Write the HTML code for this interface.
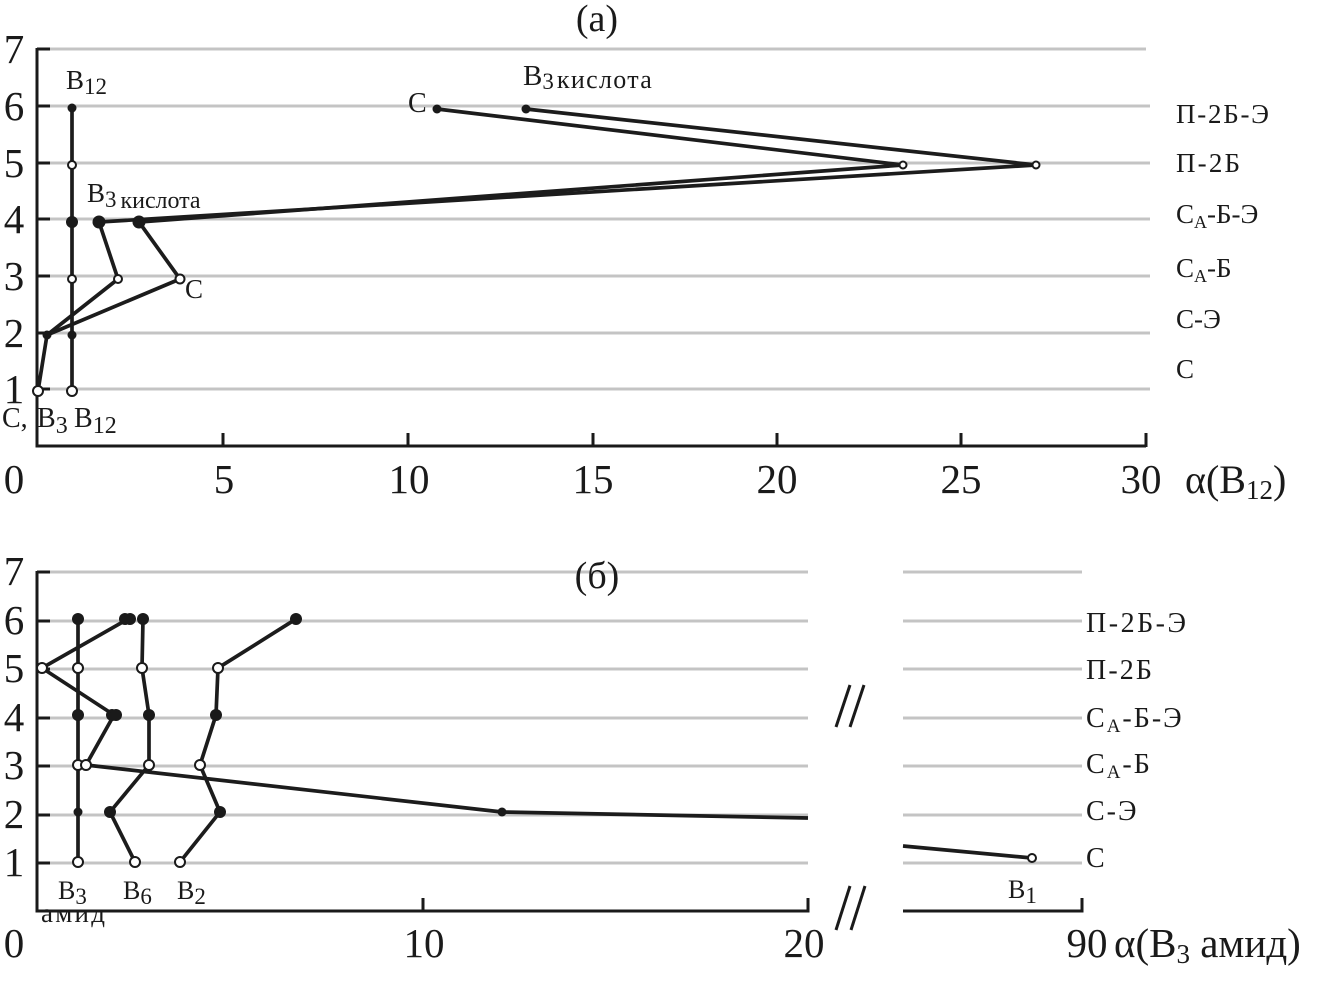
<!DOCTYPE html>
<html><head><meta charset="utf-8">
<style>
html,body{margin:0;padding:0;background:#fff;}
svg{display:block;}
text{font-family:"Liberation Serif","DejaVu Serif",serif;fill:#1a1a1a;}
</style></head>
<body>
<svg width="1323" height="983" viewBox="0 0 1323 983" xmlns="http://www.w3.org/2000/svg">
<!-- ============ TOP CHART (a) ============ -->
<g stroke="#c4c4c4" stroke-width="3">
<line x1="37" y1="49" x2="1146" y2="49"/>
<line x1="37" y1="106" x2="1150" y2="106"/>
<line x1="37" y1="163" x2="1150" y2="163"/>
<line x1="37" y1="219" x2="1150" y2="219"/>
<line x1="37" y1="276" x2="1150" y2="276"/>
<line x1="37" y1="333" x2="1150" y2="333"/>
<line x1="37" y1="389" x2="1150" y2="389"/>
</g>
<g stroke="#1a1a1a" stroke-width="3" fill="none">
<polyline points="37,48 37,446 1146,446"/>
<line x1="37" y1="49" x2="50" y2="49"/>
<line x1="37" y1="106" x2="50" y2="106"/>
<line x1="37" y1="163" x2="50" y2="163"/>
<line x1="37" y1="219" x2="50" y2="219"/>
<line x1="37" y1="276" x2="50" y2="276"/>
<line x1="37" y1="333" x2="50" y2="333"/>
<line x1="37" y1="389" x2="50" y2="389"/>
<line x1="223" y1="433" x2="223" y2="446"/>
<line x1="408" y1="433" x2="408" y2="446"/>
<line x1="593" y1="433" x2="593" y2="446"/>
<line x1="777" y1="433" x2="777" y2="446"/>
<line x1="961" y1="433" x2="961" y2="446"/>
<line x1="1146" y1="433" x2="1146" y2="447"/>
</g>
<!-- series lines -->
<g stroke="#1c1c1c" stroke-width="3.7" fill="none" stroke-linejoin="round">
<line x1="72" y1="108" x2="72" y2="391"/>
<polyline points="38,391 47,335 118,279 99,222 1036,165 526,109"/>
<polyline points="47,335 180,279 139,222 903,165 437,109"/>
</g>
<!-- markers -->
<g fill="#1a1a1a">
<circle cx="72" cy="108" r="4.5"/>
<circle cx="72" cy="222" r="6"/>
<circle cx="72" cy="335" r="4.5"/>
<circle cx="47" cy="335" r="4.5"/>
<circle cx="99" cy="222" r="6.5"/>
<circle cx="139" cy="222" r="6.5"/>
<circle cx="437" cy="109" r="4.5"/>
<circle cx="526" cy="109" r="4.5"/>
</g>
<g fill="#fff" stroke="#1a1a1a" stroke-width="2">
<circle cx="72" cy="165" r="4"/>
<circle cx="72" cy="279" r="4"/>
<circle cx="72" cy="391" r="5"/>
<circle cx="38" cy="391" r="5"/>
<circle cx="118" cy="279" r="4"/>
<circle cx="180" cy="279" r="4.5"/>
<circle cx="903" cy="165" r="3.5"/>
<circle cx="1036" cy="165" r="3.5"/>
</g>
<!-- axis tick labels -->
<g font-size="41" text-anchor="middle">
<text x="14" y="63">7</text>
<text x="14" y="120">6</text>
<text x="14" y="177">5</text>
<text x="14" y="233">4</text>
<text x="14" y="290">3</text>
<text x="14" y="347">2</text>
<text x="14" y="403">1</text>
<text x="14" y="493">0</text>
<text x="224" y="493">5</text>
<text x="409" y="493">10</text>
<text x="593" y="493">15</text>
<text x="777" y="493">20</text>
<text x="961" y="493">25</text>
<text x="1141" y="493">30</text>
</g>
<text x="1185" y="493" font-size="40">α(B<tspan font-size="27" dy="6">12</tspan><tspan dy="-6">)</tspan></text>
<text x="597" y="31" font-size="38" text-anchor="middle">(a)</text>
<!-- right category labels -->
<g font-size="27">
<text x="1176" y="123" textLength="93">П-2Б-Э</text>
<text x="1176" y="172" textLength="64">П-2Б</text>
<text x="1176" y="223">C<tspan font-size="18" dy="5">A</tspan><tspan dy="-5">-Б-Э</tspan></text>
<text x="1176" y="277">C<tspan font-size="18" dy="5">A</tspan><tspan dy="-5">-Б</tspan></text>
<text x="1176" y="328">C-Э</text>
<text x="1176" y="378">C</text>
</g>
<!-- series labels -->
<g font-size="27">
<text x="66" y="89">B<tspan font-size="23" dy="5">12</tspan></text>
<text x="87" y="202">B<tspan font-size="23" dy="5">3</tspan><tspan font-size="24" dx="4" dy="1" textLength="80">кислота</tspan></text>
<text x="185" y="298">C</text>
<text x="2" y="427" font-size="28">C,</text>
<text x="37" y="427" font-size="28">B<tspan font-size="24" dy="6">3</tspan></text>
<text x="74" y="427" font-size="28">B<tspan font-size="24" dy="6">12</tspan></text>
<text x="408" y="112" font-size="28">C</text>
<text x="523" y="85" font-size="29">B<tspan font-size="23" dy="4">3</tspan><tspan font-size="26" dx="3" dy="-1" textLength="95">кислота</tspan></text>
</g>

<!-- ============ BOTTOM CHART (б) ============ -->
<g stroke="#c4c4c4" stroke-width="3">
<line x1="37" y1="572" x2="808" y2="572"/>
<line x1="37" y1="621" x2="808" y2="621"/>
<line x1="37" y1="669" x2="808" y2="669"/>
<line x1="37" y1="718" x2="808" y2="718"/>
<line x1="37" y1="766" x2="808" y2="766"/>
<line x1="37" y1="815" x2="808" y2="815"/>
<line x1="37" y1="863" x2="808" y2="863"/>
<line x1="903" y1="572" x2="1082" y2="572"/>
<line x1="903" y1="621" x2="1082" y2="621"/>
<line x1="903" y1="669" x2="1082" y2="669"/>
<line x1="903" y1="718" x2="1082" y2="718"/>
<line x1="903" y1="766" x2="1082" y2="766"/>
<line x1="903" y1="815" x2="1082" y2="815"/>
<line x1="903" y1="863" x2="1082" y2="863"/>
</g>
<g stroke="#1a1a1a" stroke-width="3" fill="none">
<polyline points="37,571 37,911 808,911 808,898"/>
<polyline points="903,911 1082,911 1082,898"/>
<line x1="37" y1="572" x2="50" y2="572"/>
<line x1="37" y1="621" x2="50" y2="621"/>
<line x1="37" y1="669" x2="50" y2="669"/>
<line x1="37" y1="718" x2="50" y2="718"/>
<line x1="37" y1="766" x2="50" y2="766"/>
<line x1="37" y1="815" x2="50" y2="815"/>
<line x1="37" y1="863" x2="50" y2="863"/>
<line x1="423" y1="898" x2="423" y2="911"/>
<!-- break marks -->
<line x1="836" y1="727" x2="850" y2="685"/>
<line x1="850" y1="727" x2="864" y2="685"/>
<line x1="836" y1="930" x2="850" y2="886"/>
<line x1="851" y1="930" x2="865" y2="886"/>
</g>
<g stroke="#1c1c1c" stroke-width="3.7" fill="none" stroke-linejoin="round">
<line x1="78" y1="619" x2="78" y2="862"/>
<polyline points="128,619 42,668 114,715 86,765 502,812 808,818"/>
<line x1="903" y1="846" x2="1032" y2="858"/>
<polyline points="143,619 142,668 149,715 149,765 110,812 135,862"/>
<polyline points="296,619 218,668 216,715 200,765 220,812 180,862"/>
</g>
<g fill="#1a1a1a">
<circle cx="78" cy="619" r="6"/>
<circle cx="78" cy="715" r="6"/>
<circle cx="78" cy="812" r="4.5"/>
<circle cx="125" cy="619" r="6"/>
<circle cx="130" cy="619" r="6"/>
<circle cx="143" cy="619" r="6"/>
<circle cx="296" cy="619" r="6"/>
<circle cx="112" cy="715" r="6"/>
<circle cx="116" cy="715" r="6"/>
<circle cx="149" cy="715" r="6"/>
<circle cx="216" cy="715" r="6"/>
<circle cx="502" cy="812" r="4.5"/>
<circle cx="110" cy="812" r="6"/>
<circle cx="220" cy="812" r="6"/>
</g>
<g fill="#fff" stroke="#1a1a1a" stroke-width="2">
<circle cx="78" cy="668" r="5"/>
<circle cx="78" cy="765" r="5"/>
<circle cx="78" cy="862" r="5"/>
<circle cx="42" cy="668" r="5"/>
<circle cx="86" cy="765" r="5"/>
<circle cx="142" cy="668" r="5"/>
<circle cx="149" cy="765" r="5"/>
<circle cx="135" cy="862" r="5"/>
<circle cx="218" cy="668" r="5"/>
<circle cx="200" cy="765" r="5"/>
<circle cx="180" cy="862" r="5"/>
<circle cx="1032" cy="858" r="4"/>
</g>
<g font-size="41" text-anchor="middle">
<text x="14" y="585">7</text>
<text x="14" y="634">6</text>
<text x="14" y="682">5</text>
<text x="14" y="731">4</text>
<text x="14" y="779">3</text>
<text x="14" y="828">2</text>
<text x="14" y="876">1</text>
<text x="14" y="957">0</text>
<text x="424" y="957">10</text>
<text x="804" y="957">20</text>
<text x="1087" y="957">90</text>
</g>
<text x="1114" y="957" font-size="41">α(B<tspan font-size="27" dy="6">3</tspan><tspan dy="-6"> амид)</tspan></text>
<text x="597" y="588" font-size="38" text-anchor="middle">(б)</text>
<g font-size="28">
<text x="1086" y="632" textLength="100">П-2Б-Э</text>
<text x="1086" y="679" textLength="66">П-2Б</text>
<text x="1086" y="727" letter-spacing="2">C<tspan font-size="19" dy="5">A</tspan><tspan dy="-5">-Б-Э</tspan></text>
<text x="1086" y="773" letter-spacing="2">C<tspan font-size="19" dy="5">A</tspan><tspan dy="-5">-Б</tspan></text>
<text x="1086" y="820" letter-spacing="2">C-Э</text>
<text x="1086" y="867">C</text>
</g>
<g font-size="26">
<text x="58" y="899">B<tspan font-size="23" dy="5">3</tspan></text>
<text x="41" y="922" font-size="27" textLength="64">амид</text>
<text x="123" y="899">B<tspan font-size="23" dy="5">6</tspan></text>
<text x="177" y="899">B<tspan font-size="23" dy="5">2</tspan></text>
<text x="1008" y="898">B<tspan font-size="23" dy="5">1</tspan></text>
</g>
</svg>
</body></html>
